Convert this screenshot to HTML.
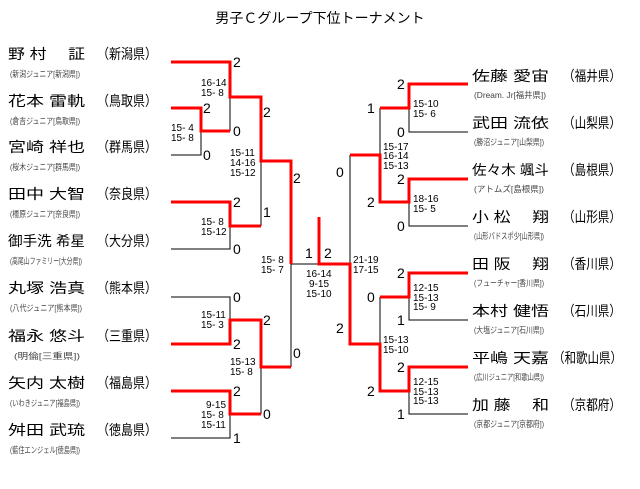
<!DOCTYPE html>
<html><head><meta charset="utf-8"><style>
html,body{margin:0;padding:0;background:#fff;}
svg{display:block;}
text{font-family:"Liberation Sans","Noto Sans CJK JP",sans-serif;}
.n{font-size:14px;fill:#000;}
.a{font-size:8.5px;fill:#444;}
.s{font-size:10px;fill:#000;}
.w{font-size:14px;fill:#000;}
.r{stroke:#f00;stroke-width:3;fill:none;}
.b{stroke:#000;stroke-width:1;fill:none;}
</style></head><body>
<svg width="640" height="489" viewBox="0 0 640 489" xmlns="http://www.w3.org/2000/svg">
<text x="320" y="23" text-anchor="middle" style="font-size:14px">男子Ｃグループ下位トーナメント</text>

<!-- Left names -->
<g class="n">
<text x="8" y="59" textLength="77" lengthAdjust="spacingAndGlyphs">野 村　 証</text><text x="97" y="59" textLength="60" lengthAdjust="spacingAndGlyphs">（新潟県）</text>
<text x="8" y="106" textLength="77" lengthAdjust="spacingAndGlyphs">花本 雷軌</text><text x="97" y="106" textLength="60" lengthAdjust="spacingAndGlyphs">（鳥取県）</text>
<text x="8" y="152" textLength="77" lengthAdjust="spacingAndGlyphs">宮崎 祥也</text><text x="97" y="152" textLength="60" lengthAdjust="spacingAndGlyphs">（群馬県）</text>
<text x="8" y="199" textLength="77" lengthAdjust="spacingAndGlyphs">田中 大智</text><text x="97" y="199" textLength="60" lengthAdjust="spacingAndGlyphs">（奈良県）</text>
<text x="8" y="246" textLength="77" lengthAdjust="spacingAndGlyphs">御手洗 希星</text><text x="97" y="246" textLength="60" lengthAdjust="spacingAndGlyphs">（大分県）</text>
<text x="8" y="293" textLength="77" lengthAdjust="spacingAndGlyphs">丸塚 浩真</text><text x="97" y="293" textLength="60" lengthAdjust="spacingAndGlyphs">（熊本県）</text>
<text x="8" y="341" textLength="77" lengthAdjust="spacingAndGlyphs">福永 悠斗</text><text x="97" y="341" textLength="60" lengthAdjust="spacingAndGlyphs">（三重県）</text>
<text x="8" y="388" textLength="77" lengthAdjust="spacingAndGlyphs">矢内 太樹</text><text x="97" y="388" textLength="60" lengthAdjust="spacingAndGlyphs">（福島県）</text>
<text x="8" y="435" textLength="77" lengthAdjust="spacingAndGlyphs">舛田 武琉</text><text x="97" y="435" textLength="60" lengthAdjust="spacingAndGlyphs">（徳島県）</text>
</g>
<g class="a">
<text x="10" y="77" textLength="70" lengthAdjust="spacingAndGlyphs">(新潟ジュニア[新潟県])</text>
<text x="10" y="124" textLength="70" lengthAdjust="spacingAndGlyphs">(倉吉ジュニア[鳥取県])</text>
<text x="10" y="170" textLength="70" lengthAdjust="spacingAndGlyphs">(桜木ジュニア[群馬県])</text>
<text x="10" y="217" textLength="70" lengthAdjust="spacingAndGlyphs">(橿原ジュニア[奈良県])</text>
<text x="10" y="264" textLength="72" lengthAdjust="spacingAndGlyphs">(高尾山ファミリー[大分県])</text>
<text x="10" y="311" textLength="72" lengthAdjust="spacingAndGlyphs">(八代ジュニア[熊本県])</text>
<text x="14" y="359" textLength="66" lengthAdjust="spacingAndGlyphs">(明倫[三重県])</text>
<text x="10" y="406" textLength="70" lengthAdjust="spacingAndGlyphs">(いわきジュニア[福島県])</text>
<text x="10" y="453" textLength="70" lengthAdjust="spacingAndGlyphs">(藍住エンジェル[徳島県])</text>
</g>

<!-- Right names -->
<g class="n">
<text x="472" y="81" textLength="77" lengthAdjust="spacingAndGlyphs">佐藤 愛宙</text><text x="563" y="81" textLength="58" lengthAdjust="spacingAndGlyphs">（福井県）</text>
<text x="472" y="128" textLength="77" lengthAdjust="spacingAndGlyphs">武田 流依</text><text x="563" y="128" textLength="58" lengthAdjust="spacingAndGlyphs">（山梨県）</text>
<text x="472" y="175" textLength="77" lengthAdjust="spacingAndGlyphs">佐々木 颯斗</text><text x="563" y="175" textLength="58" lengthAdjust="spacingAndGlyphs">（島根県）</text>
<text x="472" y="222" textLength="77" lengthAdjust="spacingAndGlyphs">小 松　 翔</text><text x="563" y="222" textLength="58" lengthAdjust="spacingAndGlyphs">（山形県）</text>
<text x="472" y="269" textLength="77" lengthAdjust="spacingAndGlyphs">田 阪　 翔</text><text x="563" y="269" textLength="58" lengthAdjust="spacingAndGlyphs">（香川県）</text>
<text x="472" y="316" textLength="77" lengthAdjust="spacingAndGlyphs">本村 健悟</text><text x="563" y="316" textLength="58" lengthAdjust="spacingAndGlyphs">（石川県）</text>
<text x="472" y="363" textLength="77" lengthAdjust="spacingAndGlyphs">平嶋 天嘉</text><text x="553" y="363" textLength="69" lengthAdjust="spacingAndGlyphs">（和歌山県）</text>
<text x="472" y="410" textLength="77" lengthAdjust="spacingAndGlyphs">加 藤　 和</text><text x="563" y="410" textLength="58" lengthAdjust="spacingAndGlyphs">（京都府）</text>
</g>
<g class="a">
<text x="474" y="98" textLength="72" lengthAdjust="spacingAndGlyphs">(Dream. Jr[福井県])</text>
<text x="474" y="145" textLength="70" lengthAdjust="spacingAndGlyphs">(勝沼ジュニア[山梨県])</text>
<text x="474" y="192" textLength="70" lengthAdjust="spacingAndGlyphs">(アトムズ[島根県])</text>
<text x="474" y="239" textLength="70" lengthAdjust="spacingAndGlyphs">(山形パドスポ少[山形県])</text>
<text x="474" y="286" textLength="70" lengthAdjust="spacingAndGlyphs">(フューチャー[香川県])</text>
<text x="474" y="333" textLength="70" lengthAdjust="spacingAndGlyphs">(大塩ジュニア[石川県])</text>
<text x="474" y="380" textLength="70" lengthAdjust="spacingAndGlyphs">(広川ジュニア[和歌山県])</text>
<text x="474" y="427" textLength="70" lengthAdjust="spacingAndGlyphs">(京都ジュニア[京都府])</text>
</g>

<!-- Left bracket black -->
<g class="b">
<path d="M171 155H201V131"/>
<path d="M230 97V131"/>
<path d="M171 249H230V226"/>
<path d="M261 161V226"/>
<path d="M171 297H230V320"/>
<path d="M171 438H230V414"/>
<path d="M261 367V414"/>
<path d="M291 264V367"/>
<path d="M291 264H319"/>
<path d="M350 264V155"/>
<path d="M380 108V155"/>
<path d="M409 108V132H468"/>
<path d="M409 202V226H468"/>
<path d="M380 297V344"/>
<path d="M409 297V320H468"/>
<path d="M409 391V414H468"/>
</g>
<!-- Red paths -->
<g class="r">
<path d="M171 62H230V97H261V161H291V264"/>
<path d="M171 108H201V131H230"/>
<path d="M171 202H230V226H261"/>
<path d="M171 344H230V320H261V367H291"/>
<path d="M171 391H230V414H261"/>
<path d="M319 217V264H350V344H380V391H409V367H468"/>
<path d="M350 155H380V202H409V179H468"/>
<path d="M380 108H409V84H468"/>
<path d="M380 297H409V273H468"/>
</g>

<!-- Win counts -->
<g class="w">
<text x="233" y="67">2</text><text x="203" y="113">2</text><text x="203" y="160">0</text><text x="233" y="136">0</text>
<text x="233" y="207">2</text><text x="233" y="254">0</text><text x="263" y="117">2</text><text x="263" y="217">1</text>
<text x="293" y="183">2</text><text x="233" y="302">0</text><text x="233" y="349">2</text><text x="263" y="325">2</text>
<text x="233" y="396">2</text><text x="233" y="443">1</text><text x="263" y="419">0</text><text x="293" y="358">0</text>
<text x="305" y="258">1</text><text x="324" y="258">2</text>
<text x="336" y="177">0</text><text x="336" y="333">2</text>
<text x="367" y="113">1</text><text x="367" y="207">2</text><text x="367" y="302">0</text><text x="367" y="396">2</text>
<text x="397" y="89">2</text><text x="397" y="137">0</text><text x="397" y="184">2</text><text x="397" y="231">0</text>
<text x="397" y="278">2</text><text x="397" y="325">1</text><text x="397" y="372">2</text><text x="397" y="419">1</text>
</g>

<!-- Set scores -->
<g class="s">
<text x="201" y="86">16-14</text><text x="201" y="96">15- 8</text>
<text x="171" y="131">15- 4</text><text x="171" y="141">15- 8</text>
<text x="230" y="156">15-11</text><text x="230" y="166">14-16</text><text x="230" y="176">15-12</text>
<text x="201" y="225">15- 8</text><text x="201" y="235">15-12</text>
<text x="261" y="263">15- 8</text><text x="261" y="273">15- 7</text>
<text x="306" y="277">16-14</text><text x="309" y="287">9-15</text><text x="306" y="297">15-10</text>
<text x="353" y="263">21-19</text><text x="353" y="273">17-15</text>
<text x="201" y="318">15-11</text><text x="201" y="328">15- 3</text>
<text x="230" y="365">15-13</text><text x="230" y="375">15- 8</text>
<text x="206" y="408">9-15</text><text x="201" y="418">15- 8</text><text x="201" y="428">15-11</text>
<text x="413" y="107">15-10</text><text x="413" y="117">15- 6</text>
<text x="383" y="150">15-17</text><text x="383" y="159">16-14</text><text x="383" y="169">15-13</text>
<text x="413" y="202">18-16</text><text x="413" y="212">15- 5</text>
<text x="413" y="291">12-15</text><text x="413" y="301">15-13</text><text x="413" y="310">15- 9</text>
<text x="383" y="343">15-13</text><text x="383" y="353">15-10</text>
<text x="413" y="385">12-15</text><text x="413" y="395">15-13</text><text x="413" y="404">15-13</text>
</g>
</svg>
</body></html>
